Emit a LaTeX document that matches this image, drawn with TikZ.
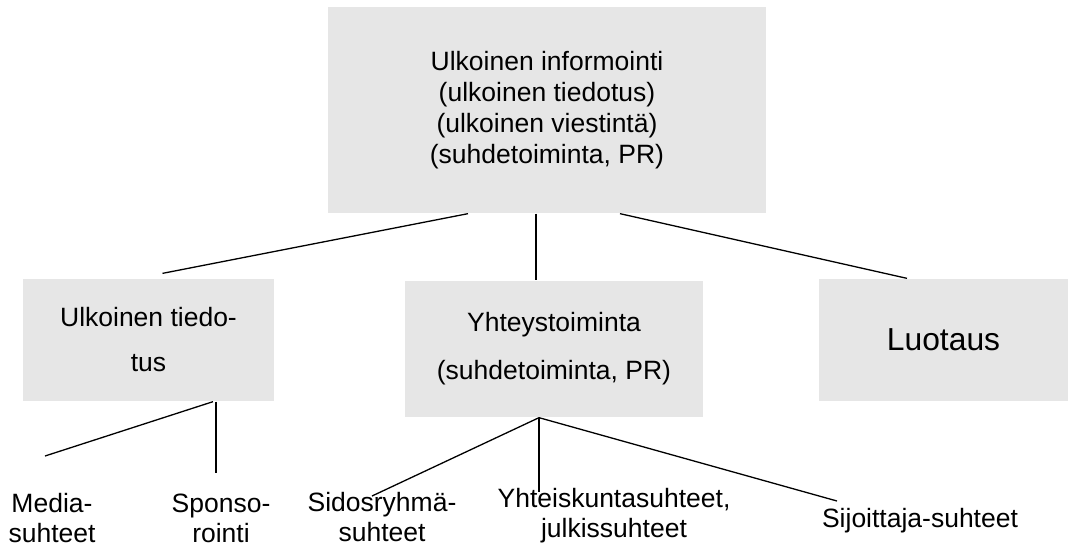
\documentclass[tikz,border=0pt]{standalone}
\usepackage{fontspec}
\setmainfont{Liberation Sans}
\definecolor{boxgray}{RGB}{230,230,230}
\begin{document}
\begin{tikzpicture}[x=0.5pt,y=-0.5pt,line width=0.65pt,
				box/.style = {fill=boxgray, inner sep = 0pt, align=center, font=\fontsize{13.25}{15.6}\selectfont},
				leaf/.style = {inner sep = 0pt, align=center, font=\fontsize{13.25}{15}\selectfont}]
				\useasboundingbox (0,0) rectangle (1068,548);
				
				\node[box,minimum width=219pt,minimum height=103pt] (ulk) at (547,110) {Ulkoinen informointi\\(ulkoinen tiedotus)\\(ulkoinen viestintä)\\(suhdetoiminta, PR)};
				\node[box,minimum width=125.5pt,minimum height=61pt,font=\fontsize{13.25}{22.5}\selectfont] (tied) at (148.5,340) {Ulkoinen tiedo-\\tus};
				\node[box,minimum width=149pt,minimum height=68pt,font=\fontsize{13.25}{24}\selectfont] (yht) at (554,349) {Yhteystoiminta\\(suhdetoiminta, PR)};
				\node[box,minimum width=124.5pt,minimum height=61pt,font=\fontsize{15.9}{19}\selectfont] (luo) at (943.5,340) {Luotaus};
				
				\node[leaf] (media) at (52,518) {Media-\\suhteet};
				\node[leaf] (spon) at (221,518) {Sponso-\\rointi};
				\node[leaf] (sid) at (382,517) {Sidosryhmä-\\suhteet};
				\node[leaf] (yhk) at (614,516) {Yhteiskuntasuhteet,\\julkissuhteet};
				\node[leaf] (sij) at (920,521) {Sijoittaja-suhteet};
				
				\coordinate (m1) at (45,456);
				\coordinate (s1) at (216,473);
				\coordinate (s2) at (372,496);
				\coordinate (s3) at (539,492);
				\coordinate (s4) at (837,501);
				
				\draw ([xshift=-39.5pt]ulk.south) -- ([xshift=7pt,yshift=2.5pt]tied.north);
				\draw ([xshift=-5.5pt]ulk.south) -- ([xshift=-9pt]yht.north);
				\draw ([xshift=36.5pt]ulk.south) -- ([xshift=-18.25pt]luo.north);
				\draw ([xshift=32.25pt]tied.south) -- (m1);
				\draw ([xshift=33.75pt]tied.south) -- (s1);
				\draw ([xshift=-7.5pt]yht.south) -- (s2);
				\draw ([xshift=-7.5pt]yht.south) -- (s3);
				\draw ([xshift=-7.5pt]yht.south) -- (s4);
\end{tikzpicture}
\end{document}
